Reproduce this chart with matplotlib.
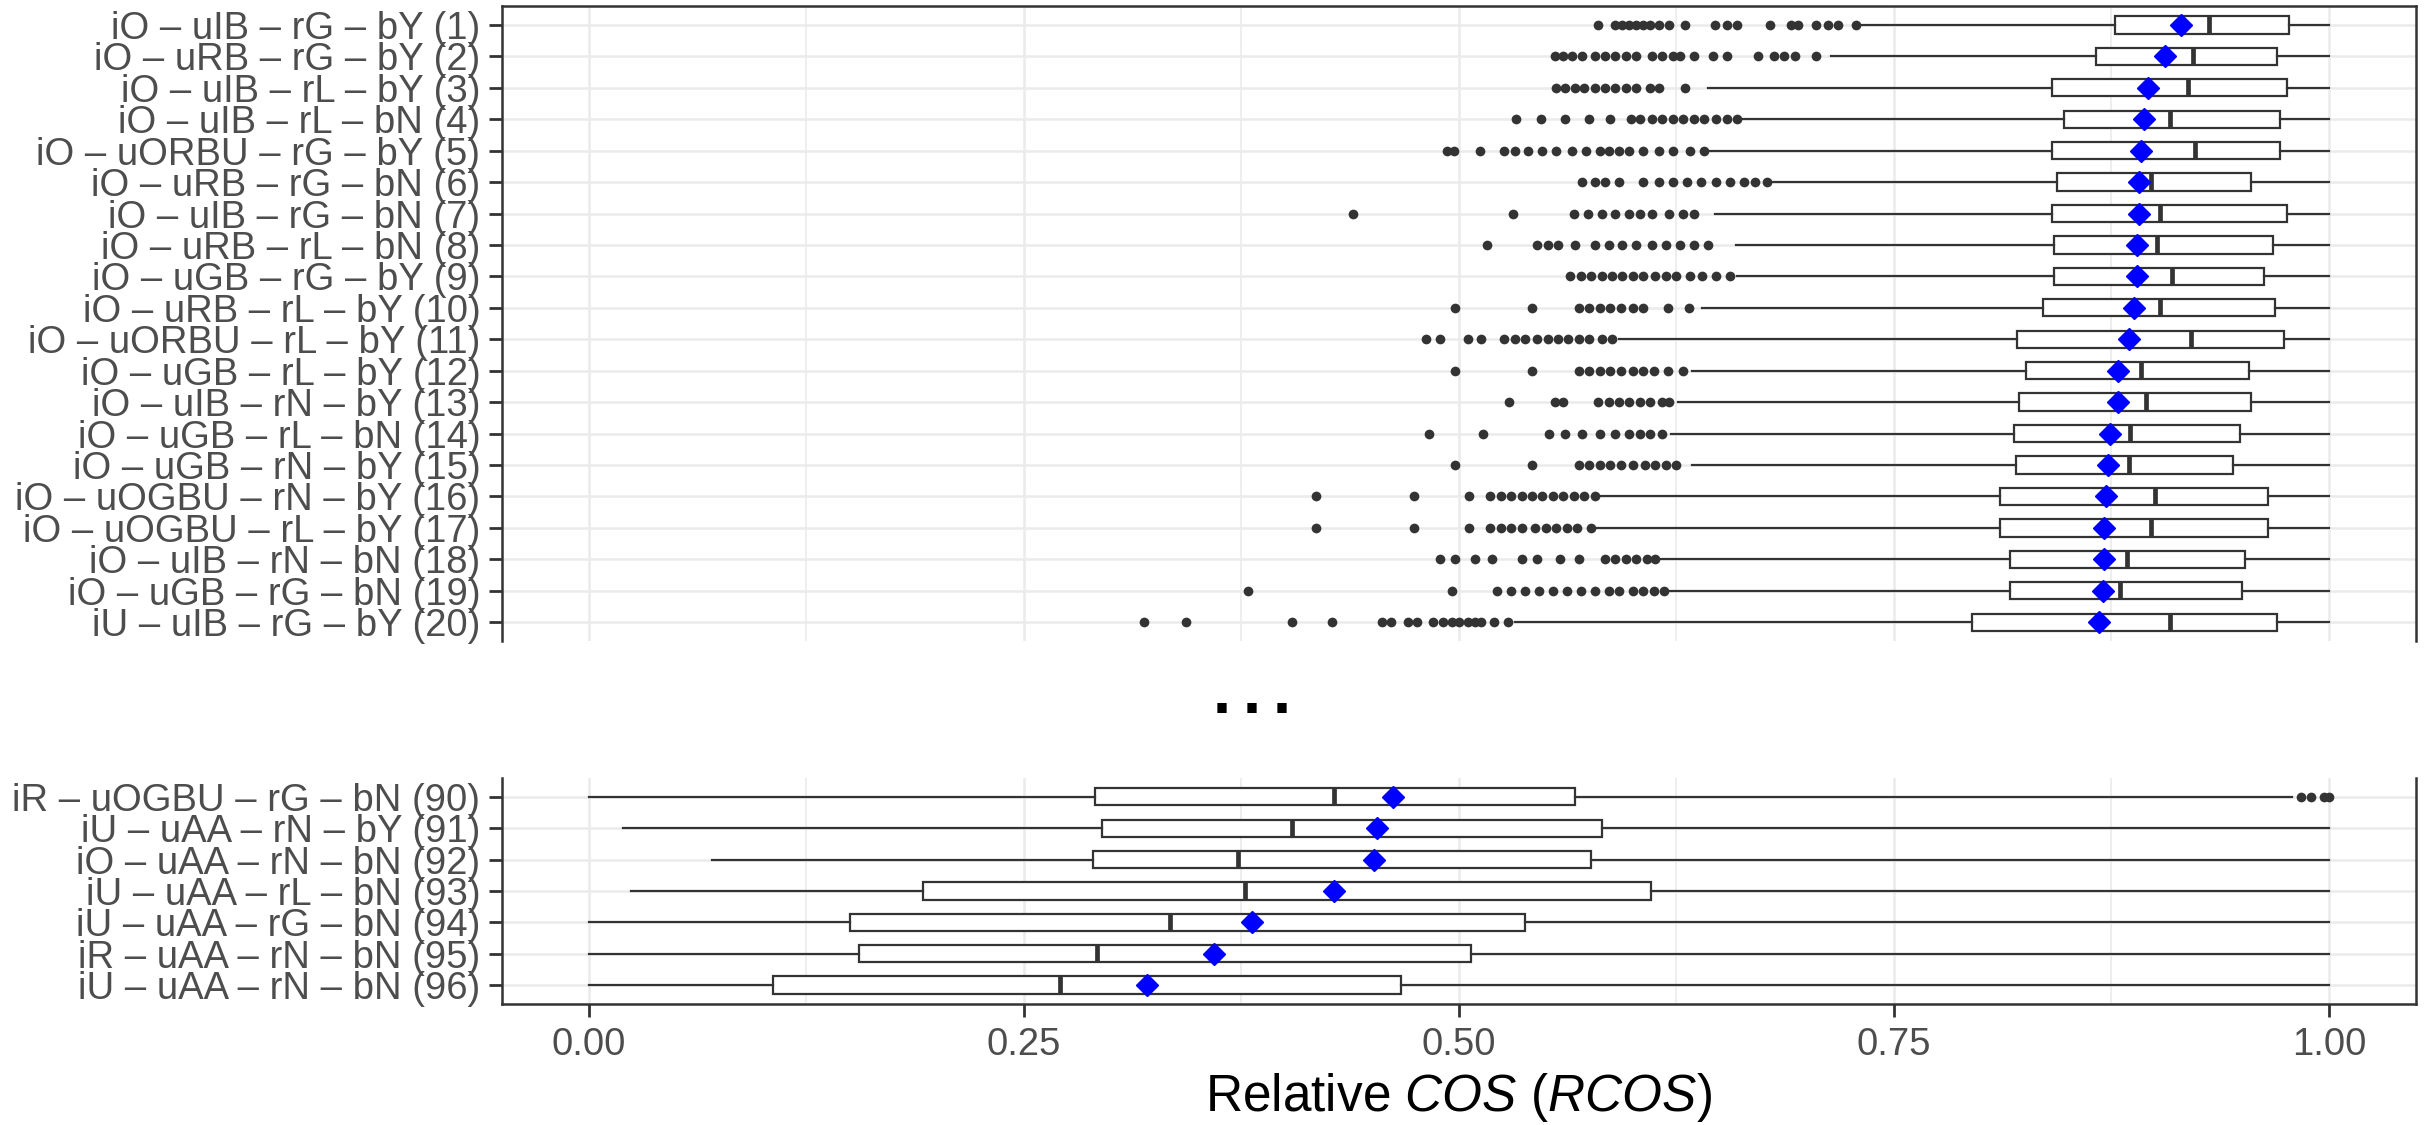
import matplotlib
matplotlib.use("Agg")
import matplotlib.pyplot as plt
from matplotlib.ticker import MultipleLocator

plt.rcParams['font.family'] = ['Liberation Sans', 'DejaVu Sans']
plt.rcParams['mathtext.fontset'] = 'custom'
plt.rcParams['mathtext.rm'] = 'Liberation Sans'
plt.rcParams['mathtext.it'] = 'Liberation Sans:italic'

# ---- top block: configurations 1-20 ----
top_labels = ["iO – uIB – rG – bY (1)", "iO – uRB – rG – bY (2)",
              "iO – uIB – rL – bY (3)", "iO – uIB – rL – bN (4)",
              "iO – uORBU – rG – bY (5)", "iO – uRB – rG – bN (6)",
              "iO – uIB – rG – bN (7)", "iO – uRB – rL – bN (8)",
              "iO – uGB – rG – bY (9)", "iO – uRB – rL – bY (10)",
              "iO – uORBU – rL – bY (11)", "iO – uGB – rL – bY (12)",
              "iO – uIB – rN – bY (13)", "iO – uGB – rL – bN (14)",
              "iO – uGB – rN – bY (15)", "iO – uOGBU – rN – bY (16)",
              "iO – uOGBU – rL – bY (17)", "iO – uIB – rN – bN (18)",
              "iO – uGB – rG – bN (19)", "iU – uIB – rG – bY (20)"]
top_q1 = [0.877, 0.866, 0.841, 0.848, 0.841, 0.844, 0.841, 0.842, 0.842, 0.836,
          0.821, 0.826, 0.822, 0.819, 0.820, 0.811, 0.811, 0.817, 0.817, 0.795]
top_med = [0.931, 0.922, 0.919, 0.909, 0.923, 0.898, 0.903, 0.901, 0.910, 0.903,
           0.921, 0.892, 0.895, 0.886, 0.885, 0.900, 0.898, 0.884, 0.880, 0.909]
top_q3 = [0.977, 0.970, 0.976, 0.972, 0.972, 0.955, 0.976, 0.968, 0.963, 0.969,
          0.974, 0.954, 0.955, 0.949, 0.945, 0.965, 0.965, 0.952, 0.950, 0.970]
top_mean = [0.915, 0.906, 0.896, 0.894, 0.892, 0.891, 0.891, 0.890, 0.890, 0.888,
            0.885, 0.879, 0.879, 0.874, 0.873, 0.872, 0.871, 0.871, 0.870, 0.868]
top_wlo = [0.730, 0.714, 0.643, 0.662, 0.644, 0.679, 0.647, 0.659, 0.660, 0.640,
           0.592, 0.634, 0.626, 0.622, 0.634, 0.580, 0.578, 0.616, 0.620, 0.532]
top_whi = [1.0, 1.0, 1.0, 1.0, 1.0, 1.0, 1.0, 1.0, 1.0, 1.0,
           1.0, 1.0, 1.0, 1.0, 1.0, 1.0, 1.0, 1.0, 1.0, 1.0]
top_fliers = [
    [0.580, 0.590, 0.594, 0.598, 0.602, 0.606, 0.610, 0.615, 0.621, 0.630,
     0.647, 0.654, 0.660, 0.679, 0.691, 0.695, 0.705, 0.712, 0.718, 0.728],
    [0.555, 0.560, 0.565, 0.571, 0.578, 0.584, 0.590, 0.596, 0.602, 0.611,
     0.617, 0.623, 0.627, 0.635, 0.646, 0.654, 0.672, 0.681, 0.687, 0.693, 0.705],
    [0.556, 0.561, 0.567, 0.572, 0.578, 0.584, 0.590, 0.596, 0.602, 0.610,
     0.615, 0.630],
    [0.533, 0.547, 0.561, 0.575, 0.587, 0.599, 0.604, 0.611, 0.617, 0.623,
     0.629, 0.635, 0.641, 0.648, 0.654, 0.660],
    [0.493, 0.497, 0.512, 0.526, 0.532, 0.540, 0.548, 0.556, 0.565, 0.573,
     0.581, 0.586, 0.592, 0.598, 0.606, 0.615, 0.623, 0.633, 0.641],
    [0.571, 0.578, 0.584, 0.592, 0.606, 0.615, 0.623, 0.631, 0.639, 0.648,
     0.656, 0.664, 0.670, 0.677],
    [0.439, 0.531, 0.566, 0.574, 0.582, 0.590, 0.598, 0.604, 0.611, 0.621,
     0.629, 0.635],
    [0.516, 0.545, 0.551, 0.557, 0.567, 0.578, 0.586, 0.594, 0.602, 0.611,
     0.619, 0.627, 0.635, 0.643],
    [0.564, 0.570, 0.576, 0.582, 0.588, 0.594, 0.600, 0.606, 0.613, 0.619,
     0.625, 0.633, 0.640, 0.648, 0.656],
    [0.498, 0.542, 0.569, 0.575, 0.581, 0.587, 0.593, 0.600, 0.606, 0.620, 0.632],
    [0.481, 0.489, 0.505, 0.513, 0.526, 0.532, 0.538, 0.545, 0.551, 0.557,
     0.563, 0.569, 0.575, 0.582, 0.588],
    [0.498, 0.542, 0.569, 0.575, 0.581, 0.587, 0.593, 0.600, 0.606, 0.612,
     0.620, 0.629],
    [0.529, 0.555, 0.560, 0.580, 0.586, 0.592, 0.598, 0.604, 0.610, 0.617, 0.621],
    [0.483, 0.514, 0.552, 0.561, 0.571, 0.581, 0.590, 0.598, 0.604, 0.610, 0.617],
    [0.498, 0.542, 0.569, 0.575, 0.581, 0.587, 0.593, 0.600, 0.607, 0.613,
     0.619, 0.625],
    [0.418, 0.474, 0.506, 0.518, 0.524, 0.530, 0.536, 0.542, 0.548, 0.554,
     0.560, 0.566, 0.572, 0.578],
    [0.418, 0.474, 0.506, 0.518, 0.524, 0.530, 0.536, 0.544, 0.550, 0.556,
     0.562, 0.568, 0.576],
    [0.489, 0.498, 0.509, 0.519, 0.536, 0.545, 0.558, 0.569, 0.584, 0.590,
     0.596, 0.602, 0.608, 0.613],
    [0.379, 0.496, 0.522, 0.530, 0.538, 0.546, 0.554, 0.562, 0.570, 0.578,
     0.586, 0.592, 0.600, 0.606, 0.612, 0.618],
    [0.319, 0.343, 0.404, 0.427, 0.456, 0.461, 0.471, 0.476, 0.485, 0.491,
     0.496, 0.500, 0.505, 0.509, 0.513, 0.520, 0.528],
]

# ---- bottom block: configurations 90-96 ----
bot_labels = ["iR – uOGBU – rG – bN (90)", "iU – uAA – rN – bY (91)",
              "iO – uAA – rN – bN (92)", "iU – uAA – rL – bN (93)",
              "iU – uAA – rG – bN (94)", "iR – uAA – rN – bN (95)",
              "iU – uAA – rN – bN (96)"]
bot_q1 = [0.291, 0.295, 0.290, 0.192, 0.150, 0.155, 0.106]
bot_med = [0.428, 0.404, 0.373, 0.377, 0.334, 0.292, 0.2705]
bot_q3 = [0.567, 0.582, 0.576, 0.6105, 0.538, 0.507, 0.467]
bot_mean = [0.462, 0.453, 0.451, 0.428, 0.381, 0.359, 0.3205]
bot_wlo = [0.0, 0.0195, 0.0705, 0.024, 0.0, 0.0, 0.0]
bot_whi = [0.979, 1.0, 1.0, 1.0, 1.0, 1.0, 1.0]
bot_fliers = [[0.984, 0.990, 0.997, 1.0], [], [], [], [], [], []]

x_ticks = [0.0, 0.25, 0.5, 0.75, 1.0]
x_ticklabels = ["0.00", "0.25", "0.50", "0.75", "1.00"]

DARK = '#333333'
GRID = '#EBEBEB'
TXT = '#4D4D4D'


def draw_panel(ax, labels, q1, med, q3, wlo, whi, mean, fliers):
    stats = []
    for i in range(len(labels)):
        stats.append({'q1': q1[i], 'med': med[i], 'q3': q3[i],
                      'whislo': wlo[i], 'whishi': whi[i],
                      'mean': mean[i], 'fliers': fliers[i]})
    n = len(labels)
    ax.bxp(stats, positions=range(n), widths=0.55, orientation='horizontal',
           showcaps=False, showmeans=True, patch_artist=True,
           boxprops=dict(facecolor='white', edgecolor=DARK, linewidth=1.6),
           whiskerprops=dict(color=DARK, linewidth=1.6),
           medianprops=dict(color=DARK, linewidth=3.4),
           meanprops=dict(marker='D', markerfacecolor='#0000FF',
                          markeredgecolor='#0000FF', markersize=11),
           flierprops=dict(marker='o', markerfacecolor=DARK, markeredgecolor=DARK,
                           markersize=7, markeredgewidth=0, linestyle='none'))
    ax.set_xlim(-0.05, 1.05)
    ax.set_ylim(n - 1 + 0.6, -0.6)
    ax.set_yticks(range(n))
    ax.set_yticklabels(labels)
    ax.xaxis.set_major_locator(MultipleLocator(0.25))
    ax.xaxis.set_minor_locator(MultipleLocator(0.125))
    ax.set_axisbelow(True)
    ax.grid(True, which='major', axis='both', color=GRID, linewidth=1.8)
    ax.grid(True, which='minor', axis='x', color=GRID, linewidth=1.2)
    ax.tick_params(axis='y', length=9.5, width=2.0, color=DARK, pad=6,
                   labelsize=27.5, labelcolor=TXT)
    ax.tick_params(axis='x', which='minor', length=0)
    for s in ax.spines.values():
        s.set_color(DARK)
        s.set_linewidth(1.8)


fig = plt.figure(figsize=(24.26, 11.25), dpi=100)
ax_top = fig.add_axes([0.2069, 0.4302, 0.7889, 0.5644])
ax_bot = fig.add_axes([0.2069, 0.1076, 0.7889, 0.2009])

draw_panel(ax_top, top_labels, top_q1, top_med, top_q3, top_wlo, top_whi,
           top_mean, top_fliers)
draw_panel(ax_bot, bot_labels, bot_q1, bot_med, bot_q3, bot_wlo, bot_whi,
           bot_mean, bot_fliers)

ax_top.spines['bottom'].set_visible(False)
ax_top.tick_params(axis='x', which='both', length=0, labelbottom=False)
ax_bot.spines['top'].set_visible(False)
ax_bot.set_xticks(x_ticks)
ax_bot.set_xticklabels(x_ticklabels)
ax_bot.tick_params(axis='x', which='major', length=9.5, width=2.0, color=DARK,
                   pad=7, labelsize=27.5, labelcolor=TXT)
ax_bot.set_xlabel(r"Relative $\mathit{COS}$ ($\mathit{RCOS}$)", fontsize=37,
                  color='black', labelpad=6)

# gap marker between the two blocks
for k in range(3):
    fig.text((1221.5 + 30 * k) / 2426, 1 - 713 / 1125, ".", ha='center',
             va='baseline', fontsize=38, fontweight='bold', family='DejaVu Sans',
             color='black')

fig.savefig("out.png", dpi=100)
